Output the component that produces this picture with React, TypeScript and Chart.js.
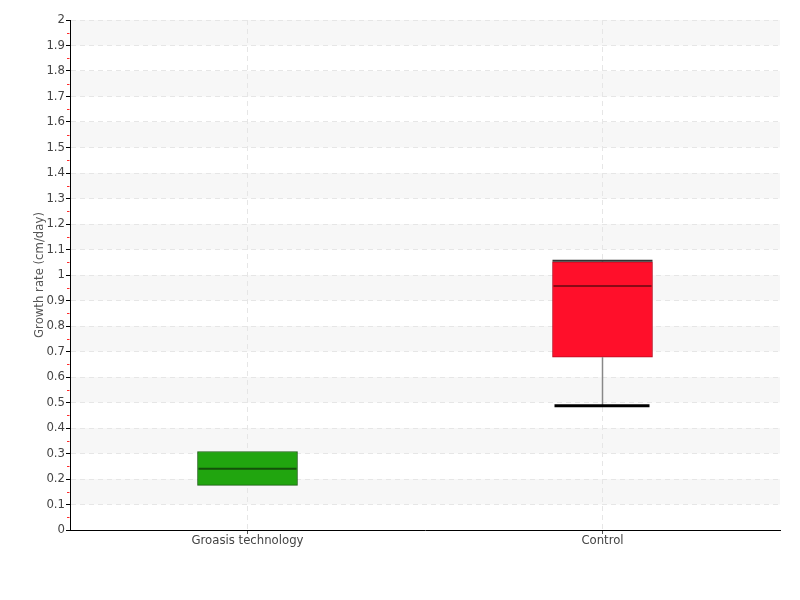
import React, { useEffect, useRef } from "react";
import { Chart, registerables } from "chart.js";

Chart.register(...registerables);

const categories = ["Groasis technology", "Control"];
const mins = [0.175, 0.487];
const q1s = [0.175, 0.678];
const medians = [0.24, 0.957];
const q3s = [0.308, 1.052];
const maxs = [0.308, 1.056];
const fillColors = ["#21a50f", "#ff0f2a"];
const borderColors = ["#1b5e12", "#b80a1e"];
const medianColors = ["#135009", "#8a0a16"];
const yTickValues = [0, 0.1, 0.2, 0.3, 0.4, 0.5, 0.6, 0.7, 0.8, 0.9, 1, 1.1, 1.2, 1.3, 1.4, 1.5, 1.6, 1.7, 1.8, 1.9, 2];

const FONT = "'DejaVu Sans Condensed', 'Liberation Sans Narrow', 'Liberation Sans', sans-serif";

const bandsPlugin = {
  id: "bands",
  beforeDraw(chart: any) {
    const { ctx, chartArea, scales } = chart;
    const y = scales.y;
    ctx.save();
    ctx.fillStyle = "#f7f7f7";
    for (let i = 1; i < yTickValues.length - 1; i += 2) {
      const top = y.getPixelForValue(yTickValues[i + 1]);
      const bot = y.getPixelForValue(yTickValues[i]);
      ctx.fillRect(chartArea.left, top, chartArea.right - chartArea.left, bot - top);
    }
    ctx.restore();
  },
};

const boxPlugin = {
  id: "boxExtras",
  afterDatasetsDraw(chart: any) {
    const { ctx, scales } = chart;
    const y = scales.y;
    const meta = chart.getDatasetMeta(0);
    ctx.save();
    meta.data.forEach((bar: any, i: number) => {
      const cx = bar.x;
      const w = bar.width;
      const left = cx - w / 2;
      const right = cx + w / 2;
      const yMin = y.getPixelForValue(mins[i]);
      const yQ1 = y.getPixelForValue(q1s[i]);
      const yQ3 = y.getPixelForValue(q3s[i]);
      const yMax = y.getPixelForValue(maxs[i]);
      ctx.strokeStyle = "#888888";
      ctx.lineWidth = 1.5;
      if (mins[i] < q1s[i]) {
        ctx.beginPath();
        ctx.moveTo(cx, yQ1);
        ctx.lineTo(cx, yMin);
        ctx.stroke();
      }
      if (maxs[i] > q3s[i]) {
        ctx.beginPath();
        ctx.moveTo(cx, yQ3);
        ctx.lineTo(cx, yMax);
        ctx.stroke();
      }
      ctx.strokeStyle = "#000000";
      ctx.lineWidth = 3;
      if (mins[i] < q1s[i]) {
        ctx.beginPath();
        ctx.moveTo(left + 2, yMin);
        ctx.lineTo(right - 3, yMin);
        ctx.stroke();
      }
      if (maxs[i] > q3s[i]) {
        ctx.lineWidth = 2;
        ctx.strokeStyle = "#333333";
        ctx.beginPath();
        ctx.moveTo(left, yMax);
        ctx.lineTo(right, yMax);
        ctx.stroke();
      }
      const yMed = y.getPixelForValue(medians[i]);
      ctx.strokeStyle = medianColors[i];
      ctx.lineWidth = 2;
      ctx.beginPath();
      ctx.moveTo(left + 1, yMed);
      ctx.lineTo(right - 1, yMed);
      ctx.stroke();
    });
    const xAxis = chart.chartArea.left;
    ctx.strokeStyle = "#ff2a2a";
    ctx.lineWidth = 1;
    for (let i = 0; i < yTickValues.length - 1; i++) {
      const v = (yTickValues[i] + yTickValues[i + 1]) / 2;
      const py = Math.round(y.getPixelForValue(v)) + 0.5;
      ctx.beginPath();
      ctx.moveTo(xAxis - 3, py);
      ctx.lineTo(xAxis - 0.5, py);
      ctx.stroke();
    }
    ctx.restore();
  },
};

export default function App() {
  const ref = useRef<HTMLCanvasElement | null>(null);
  useEffect(() => {
    document.body.style.margin = "0";
    const canvas = ref.current!;
    const chart = new Chart(canvas, {
      type: "bar",
      data: {
        labels: categories,
        datasets: [
          {
            label: "Growth rate",
            data: categories.map((_, i) => [q1s[i], q3s[i]]) as any,
            backgroundColor: fillColors,
            borderColor: borderColors,
            borderWidth: 1,
            borderSkipped: false,
            barThickness: 100,
          },
        ],
      },
      options: {
        responsive: false,
        animation: false,
        layout: { padding: { left: 32, right: 20, top: 20, bottom: 0 } },
        plugins: {
          legend: { display: false },
          tooltip: { enabled: false },
        },
        scales: {
          x: {
            afterFit: (s: any) => {
              s.height = 70;
            },
            grid: {
              offset: false,
              color: "#e6e6e6",
              drawTicks: true,
              tickLength: 4,
              tickColor: "#555555",
            },
            border: { display: true, color: "#000000", width: 1, dash: [5, 4] },
            ticks: {
              color: "#444444",
              font: { family: FONT, size: 13 },
              padding: -1,
            },
          },
          y: {
            min: 0,
            max: 2,
            afterFit: (s: any) => {
              s.width = 38;
            },
            afterBuildTicks: (s: any) => {
              s.ticks = yTickValues.map((v) => ({ value: v }));
            },
            grid: {
              color: (c: any) => (c.tick && c.tick.value === 0 ? "rgba(0,0,0,0)" : "#e6e6e6"),
              drawTicks: true,
              tickLength: 4,
              tickColor: "#000000",
            },
            border: { display: true, color: "#000000", width: 1, dash: [5, 4] },
            ticks: {
              color: "#444444",
              font: { family: FONT, size: 13 },
              padding: 1,
              callback: (v: any) => String(+Number(v).toFixed(1)),
            },
            title: {
              display: true,
              text: "Growth rate (cm/day)",
              color: "#555555",
              font: { family: FONT, size: 13 },
              padding: { top: 0, bottom: 0 },
            },
          },
        },
      },
      plugins: [bandsPlugin, boxPlugin],
    });
    return () => chart.destroy();
  }, []);
  return (
    <div style={{ position: "absolute", left: 0, top: 0, width: 800, height: 600 }}>
      <canvas ref={ref} width={800} height={600} style={{ width: 800, height: 600 }} />
    </div>
  );
}
